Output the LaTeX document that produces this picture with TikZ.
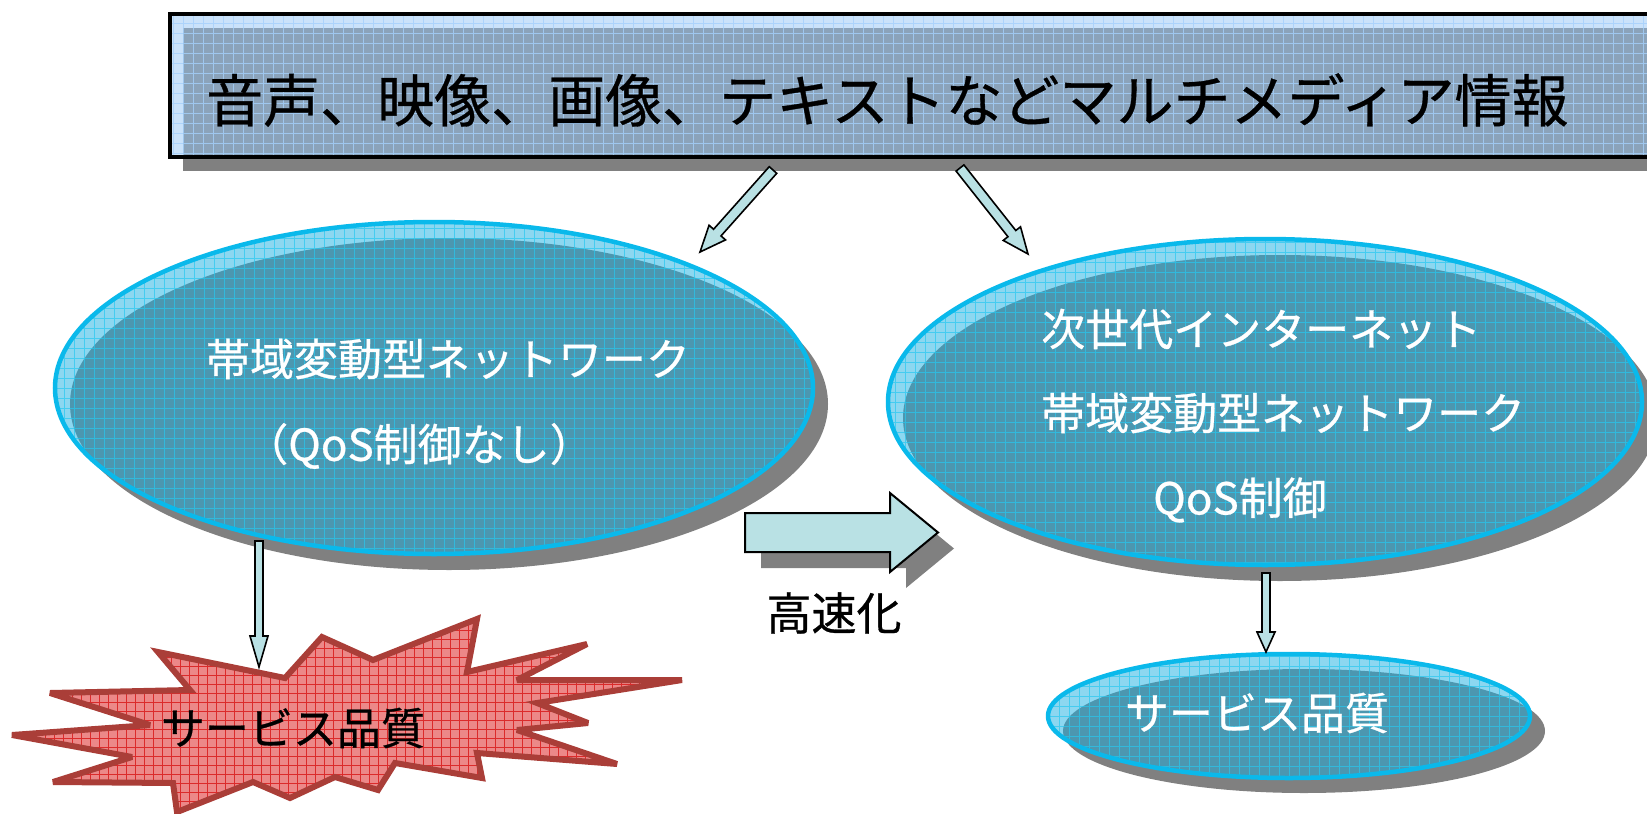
\documentclass[tikz,border=0pt]{standalone}
\usepackage{fontspec}
\newfontfamily\jp[FakeBold=0.6]{Noto Sans CJK JP}
\usetikzlibrary{calc,shapes.geometric}
\definecolor{shadowgray}{RGB}{128,128,128}
\definecolor{bannerfill}{RGB}{150,198,245}
\definecolor{bannergrid}{RGB}{165,208,252}
\definecolor{ellfill}{RGB}{25,175,225}
\definecolor{ellborder}{RGB}{10,185,235}
\definecolor{ellgrid}{RGB}{40,200,240}
\definecolor{arrowfill}{RGB}{185,225,228}
\definecolor{burstfill}{RGB}{236,136,136}
\definecolor{burstgrid}{RGB}{215,20,20}
\definecolor{burstborder}{RGB}{170,62,56}
\tikzset{
  gridpic/.style={path picture={\draw[#1] (path picture bounding box.south west) grid (path picture bounding box.north east);}},
  shadowell/.style={ellipse, fill=shadowgray, draw=none, inner sep=0pt},
  cyanell/.style={ellipse, draw=none, fill=ellfill, fill opacity=0.5, inner sep=0pt,
    gridpic={step=10pt, draw=ellgrid, line width=0.8pt, draw opacity=0.7}},
  cyanline/.style={ellipse, draw=ellborder, line width=4.5pt, fill=none, draw opacity=1, inner sep=0pt},
  banner/.style={rectangle, draw=none, fill=bannerfill, fill opacity=0.5, inner sep=0pt,
    gridpic={step=10pt, draw=bannergrid, line width=0.8pt, draw opacity=0.8}},
  bannerline/.style={rectangle, draw=black, line width=3.5pt, fill=none, inner sep=0pt},
  burst/.style={fill=burstfill, gridpic={step=9pt, draw=burstgrid, line width=0.5pt, draw opacity=0.8}},
  burstline/.style={draw=burstborder, line width=6pt, line join=miter, miter limit=4},
  blockarr/.style={draw=black, line width=1.6pt, fill=arrowfill, line join=miter},
  jptext/.style={font=\jp\fontsize{44}{50}\selectfont, inner sep=0pt},
}
\newcommand\blockarrow[7][]{%
  \coordinate (#2-b) at ($(#4)!#7!(#3)$);
  \path[blockarr,#1] ($(#3)!#5!90:(#4)$) -- ($(#2-b)!#5!90:(#4)$) -- ($(#2-b)!#6!90:(#4)$) -- (#4)
    -- ($(#2-b)!#6!-90:(#4)$) -- ($(#2-b)!#5!-90:(#4)$) -- ($(#3)!#5!-90:(#4)$) -- cycle;
}
\newcommand\burstpath{(158,652) -- (285,678) -- (322,637) -- (373,660) -- (477,619) -- (467,672) -- (587,644)
  -- (517,680) -- (682,680) -- (537,703) -- (588,723) -- (517,730) -- (617,764) -- (477,753)
  -- (482,778) -- (395,763) -- (378,790) -- (335,777) -- (290,798) -- (253,782) -- (177,812)
  -- (173,783) -- (53,782) -- (132,757) -- (12,735) -- (150,725) -- (50,693) -- (190,690) -- cycle}
\begin{document}
\begin{tikzpicture}[x=1pt,y=-1pt]
\useasboundingbox (0,0) rectangle (1647,814);
\clip (0,0) rectangle (1647,814);
% banner
\fill[shadowgray] (183,28) rectangle (1720,171);
\node[banner, anchor=north west, minimum width=1550pt, minimum height=143pt] (B) at (168,12) {};
\node[bannerline, anchor=north west, minimum width=1550pt, minimum height=143pt] (Bl) at (168,12) {};
\node[jptext, font=\jp\fontsize{57}{60}\selectfont, anchor=west] (Bt) at (206,100) {音声、映像、画像、テキストなどマルチメディア情報};
% arrows from banner
\coordinate (d1t) at (773,170); \coordinate (d1h) at (700,252);
\coordinate (d2t) at (960,168); \coordinate (d2h) at (1028,254);
\blockarrow{d1}{d1t}{d1h}{5pt}{11pt}{26pt}
\blockarrow{d2}{d2t}{d2h}{5pt}{11pt}{26pt}
% left ellipse
\node[shadowell, minimum width=758pt, minimum height=332pt] (Ls) at (449,404) {};
\node[cyanell, minimum width=758pt, minimum height=332pt] (L) at (434,388) {};
\node[cyanline, minimum width=758pt, minimum height=332pt] (Lb) at (434,388) {};
\node[jptext, white] (L1) at (448,359) {帯域変動型ネットワーク};
\node[jptext, white] (L2) at (419,446) {（QoS制御なし）};
% right ellipse
\node[shadowell, minimum width=754pt, minimum height=326pt] (Rs) at (1280,418) {};
\node[cyanell, minimum width=754pt, minimum height=326pt] (R) at (1265,402) {};
\node[cyanline, minimum width=754pt, minimum height=326pt] (Rb) at (1265,402) {};
\node[jptext, white, anchor=west] (R1) at (1041,329) {次世代インターネット};
\node[jptext, white, anchor=west] (R2) at (1041,413) {帯域変動型ネットワーク};
\node[jptext, white] (R3) at (1240,500) {QoS制御};
% bottom right ellipse
\node[shadowell, minimum width=482pt, minimum height=124pt] (Qs) at (1304,731) {};
\node[cyanell, minimum width=482pt, minimum height=124pt] (Q) at (1289,716) {};
\node[cyanline, minimum width=482pt, minimum height=124pt] (Qb) at (1289,716) {};
\node[jptext, white] (Qt) at (1257,713) {サービス品質};
% starburst
\path[burst] \burstpath;
\path[burstline] \burstpath;
\node[jptext, black] (St) at (293,728) {サービス品質};
% speed-up arrow
\coordinate (bt) at (745,532.5); \coordinate (bh) at (938,532.5);
\blockarrow[draw=none, fill=shadowgray, transform canvas={shift={(16pt,-16pt)}}]{bs}{bt}{bh}{19.5pt}{39.5pt}{48pt}
\blockarrow[line width=2pt]{bb}{bt}{bh}{19.5pt}{39.5pt}{48pt}
\node[jptext, black, font=\jp\fontsize{45}{50}\selectfont] (Bk) at (834,613) {高速化};
% down arrows
\coordinate (v1t) at (259,541); \coordinate (v1h) at (259,667);
\coordinate (v2t) at (1266,573); \coordinate (v2h) at (1266,652);
\blockarrow{v1}{v1t}{v1h}{4pt}{9pt}{31pt}
\blockarrow{v2}{v2t}{v2h}{4pt}{9pt}{20pt}
\end{tikzpicture}
\end{document}
